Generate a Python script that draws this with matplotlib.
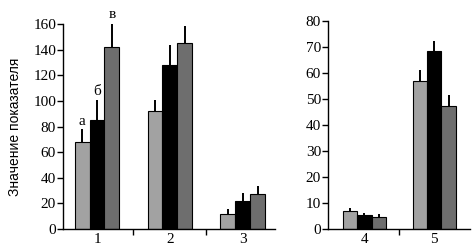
import matplotlib.pyplot as plt
import numpy as np

# left panel: groups 1-3
groups_left = ["1", "2", "3"]
vals_left = [
    [68, 92, 11.5],    # light gray
    [85, 128, 22],     # black
    [142, 145.5, 27],  # dark gray
]
err_left = [
    [10, 8.5, 4],
    [16, 16, 6],
    [19, 13, 6.5],
]
letters = ["а", "б", "в"]

# right panel: groups 4-5
groups_right = ["4", "5"]
vals_right = [
    [6.9, 57],
    [5.4, 68.6],
    [4.7, 47.3],
]
err_right = [
    [1.1, 4],
    [0.9, 3.8],
    [0.9, 4.2],
]

colors = ["#a2a2a2", "#000000", "#6e6e6e"]
serif = "Liberation Serif"

fig = plt.figure(figsize=(4.75, 2.5), dpi=100)
ax1 = fig.add_axes([63 / 475, 21 / 250, 212 / 475, 205 / 250])
ax2 = fig.add_axes([328 / 475, 21 / 250, 142 / 475, 208 / 250])

width = 0.205


def draw(ax, groups, vals, errs):
    x = np.array([int(g) for g in groups], dtype=float)
    for k in range(3):
        xs = x + (k - 1) * width
        ax.bar(xs, vals[k], width=width, color=colors[k], edgecolor="black", linewidth=0.8)
        ax.errorbar(
            xs,
            vals[k],
            yerr=[np.zeros(len(groups)), errs[k]],
            fmt="none",
            ecolor="black",
            elinewidth=1.4,
            capsize=0,
        )
    ax.spines["top"].set_visible(False)
    ax.spines["right"].set_visible(False)
    ax.set_xticks(x)
    ax.set_xticklabels(groups, fontfamily=serif, fontsize=11)
    ax.tick_params(axis="x", length=0, pad=3)
    ax.set_xticks(x[:-1] + 0.5, minor=True)
    ax.tick_params(axis="x", which="minor", length=4, direction="out", width=1)
    ax.tick_params(axis="y", length=4, direction="out", width=1, pad=1)
    return x


x1 = draw(ax1, groups_left, vals_left, err_left)
ax1.set_xlim(0.534, 3.44)
ax1.set_ylim(0, 160)
ax1.set_yticks(np.arange(0, 161, 20))
for lab in ax1.get_yticklabels():
    lab.set_fontfamily(serif)
    lab.set_fontsize(11)
ax1.set_ylabel("Значение показателя", fontfamily="Liberation Sans", fontsize=10, labelpad=8)

for k in range(3):
    top = vals_left[k][0] + err_left[k][0]
    ax1.text(x1[0] + (k - 1) * width, top + 1, letters[k], ha="center", va="bottom",
             fontfamily=serif, fontsize=11, clip_on=False)

draw(ax2, groups_right, vals_right, err_right)
ax2.set_xlim(3.48, 5.51)
ax2.set_ylim(0, 80)
ax2.set_yticks(np.arange(0, 81, 10))
for lab in ax2.get_yticklabels():
    lab.set_fontfamily(serif)
    lab.set_fontsize(11)

for ax in (ax1, ax2):
    ax.spines["left"].set_linewidth(1)
    ax.spines["bottom"].set_linewidth(1)

fig.savefig("out.png", dpi=100)
